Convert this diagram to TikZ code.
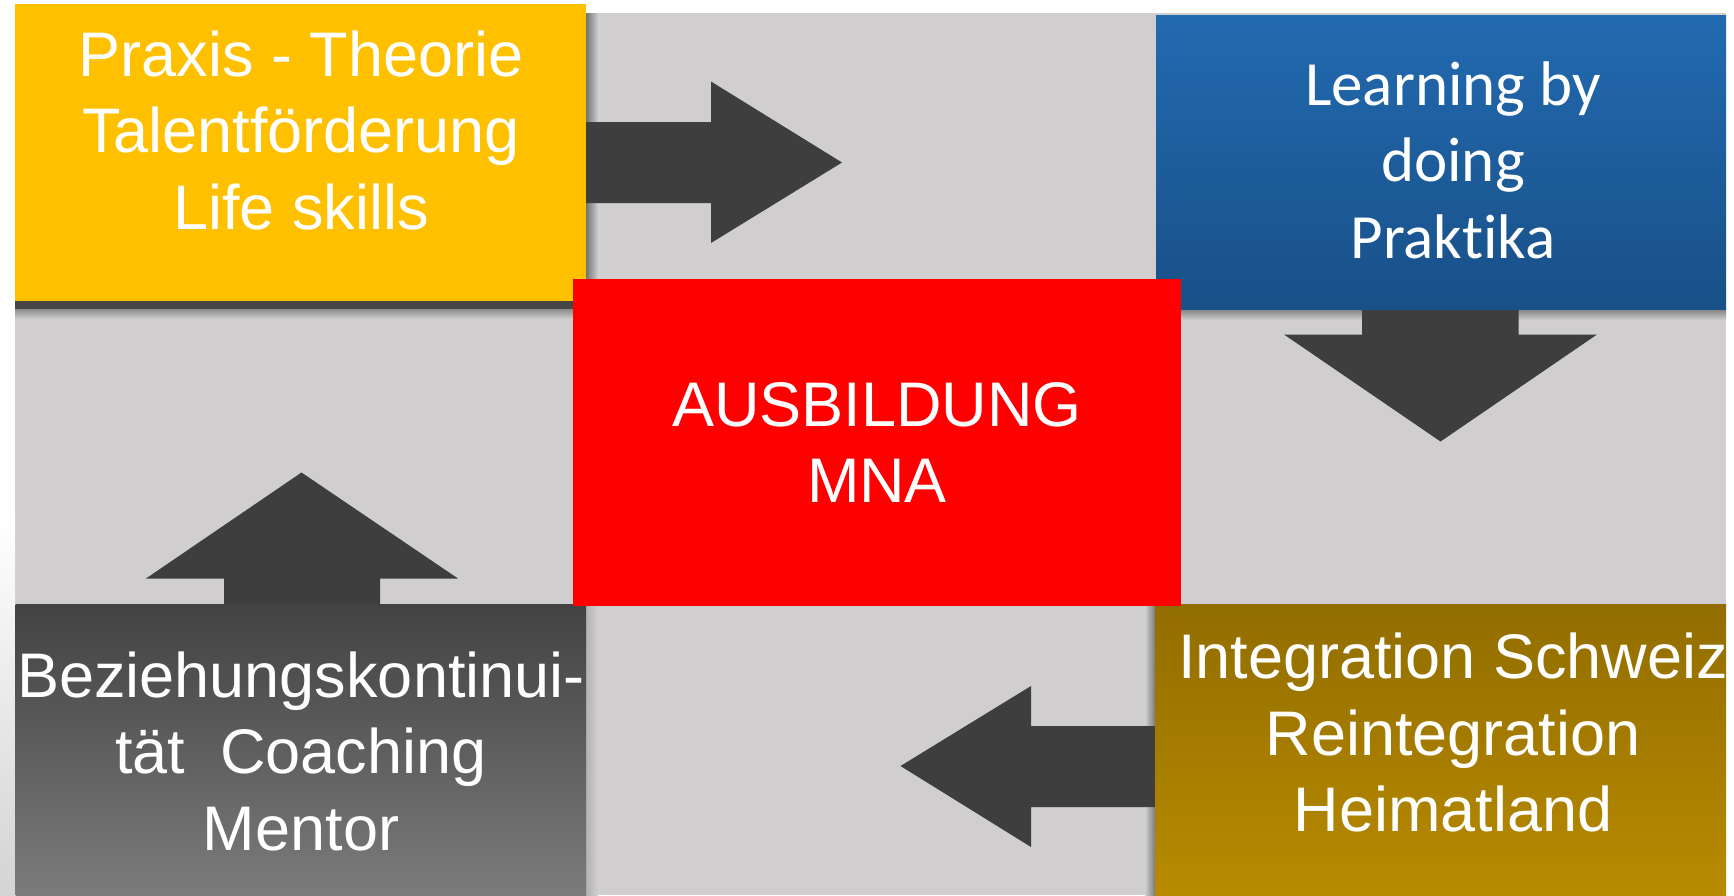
\documentclass[tikz,border=0pt]{standalone}
\usepackage{fontspec}
\setmainfont{Liberation Sans}
\newfontfamily\calibrifont[Ligatures={NoCommon,NoContextual}]{Carlito}
\usetikzlibrary{positioning}

\definecolor{bggray}{RGB}{208,206,207}
\definecolor{arrowgray}{RGB}{62,62,62}
\definecolor{boxyellow}{RGB}{255,192,0}
\definecolor{boxred}{RGB}{255,0,0}
\definecolor{bluedark}{RGB}{19,64,112}
\definecolor{bluelight}{RGB}{40,122,200}
\definecolor{golddark}{RGB}{122,92,0}
\definecolor{goldlight}{RGB}{208,156,0}
\definecolor{graydark}{RGB}{66,66,66}
\definecolor{graylight}{RGB}{123,123,123}

\begin{document}
\begin{tikzpicture}[x=1pt, y=-1pt]
    % Define node styles
    \tikzstyle{box} = [rectangle, inner sep=0pt, outer sep=0pt]
    \tikzstyle{boxtext} = [text=white, align=center, inner sep=0pt, font=\fontsize{63}{76.5}\selectfont]
    \tikzstyle{pfeil} = [fill=arrowgray]

    % Background
    \useasboundingbox (0,0) rectangle (1734,895);
    \fill[white] (0,0) rectangle (1734,895);
    \fill[bggray] (15,13) rectangle (1726,895);
    \shade[top color=white, bottom color=bggray!90] (0,515) rectangle (15,895);

    % Shadows
    \fill[black!72] (15,301) rectangle (586,309);
    \shade[top color=black!45, bottom color=bggray] (15,309) rectangle (592,319);
    \shade[left color=black!55, right color=bggray] (586,13) rectangle (598,309);
    \shade[top color=black!50, bottom color=bggray] (1156,309) rectangle (1726,320);
    \shade[left color=black!30, right color=bggray] (586,604) rectangle (598,895);
    \shade[left color=bggray, right color=black!55] (1145,604) rectangle (1156,895);

    % Arrow tips
    \coordinate (tipR) at (842,162.5);
    \coordinate (tipD) at (1440.5,441.5);
    \coordinate (tipU) at (301.5,472.5);
    \coordinate (tipL) at (900.5,766);

    % Arrows
    \fill[pfeil] (586,122) -- (711,122) -- (711,81.5) -- (tipR) -- (711,243) -- (711,203) -- (586,203) -- cycle;
    \fill[pfeil] (1362,309) -- (1362,334.5) -- (1284,334.5) -- (tipD) -- (1597,334.5) -- (1518.5,334.5) -- (1518.5,309) -- cycle;
    \fill[pfeil] (224,604) -- (224,578.5) -- (146,578.5) -- (tipU) -- (458,578.5) -- (380,578.5) -- (380,604) -- cycle;
    \fill[pfeil] (1156,726) -- (1031,726) -- (1031,686) -- (tipL) -- (1031,847) -- (1031,807) -- (1156,807) -- cycle;

    % Nodes
    \node[box, fill=boxyellow, minimum width=571pt, minimum height=297pt] (praxis) at (300.5,152.7) {};
    \node[box, minimum width=570pt, minimum height=293.5pt] (lernen) at (1441,162.25) {};
    \node[box, shade, top color=graydark, bottom color=graylight,
          minimum width=570.5pt, minimum height=291pt] (mentor) at (300.75,749.5) {};
    \node[box, minimum width=570.5pt, minimum height=291pt] (heimat) at (1440.75,749.5) {};

    % Diagonal fills
    \begin{scope}
        \clip (lernen.south west) rectangle (lernen.north east);
        \shade[shading angle=-45, top color=bluelight, bottom color=bluedark] (lernen.center) circle[radius=322];
    \end{scope}
    \begin{scope}
        \clip (heimat.south west) rectangle (heimat.north east);
        \shade[shading angle=45, top color=golddark, bottom color=goldlight] (heimat.center) circle[radius=322];
    \end{scope}

    \node[box, fill=boxred, minimum width=608pt, minimum height=327.3pt] (mna) at (877,442.35) {};

    % Labels
    \node[boxtext] (praxistext) at (301,130) {Praxis - Theorie\\Talentförderung\\Life skills};
    \node[boxtext, font=\calibrifont\fontsize{63}{76.5}\selectfont] (lernentext) at (1453,160) {Learning by\\doing\\Praktika};
    \node[boxtext] (mnatext) at (877,442.5) {AUSBILDUNG\\MNA};
    \node[boxtext] (mentortext) at (301,751) {Beziehungskontinui-\\tät\ \ Coaching\\Mentor};
    \node[boxtext] (heimattext) at (1453,732.5) {Integration Schweiz\\Reintegration\\Heimatland};
\end{tikzpicture}
\end{document}
